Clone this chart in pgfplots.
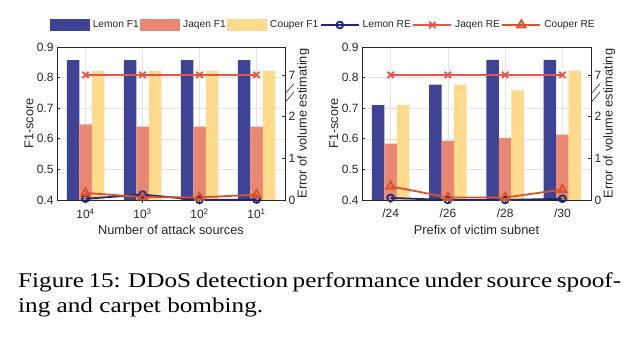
\documentclass[border=0pt]{standalone}
\usepackage{fontspec}
\setmainfont{Liberation Sans}
\newfontfamily\capfont{Liberation Serif}
\usepackage{graphicx}
\usepackage{pgfplots}
\pgfplotsset{compat=1.18}
\definecolor{lemonbar}{RGB}{62,67,150}
\definecolor{jaqenbar}{RGB}{234,135,115}
\definecolor{couperbar}{RGB}{254,218,140}
\definecolor{lemonre}{RGB}{30,40,120}
\definecolor{jaqenre}{RGB}{232,85,70}
\definecolor{couperre}{RGB}{217,83,40}
\definecolor{axgray}{RGB}{38,38,38}

\pgfplotsset{
  barlegend/.style={legend image code/.code={\fill[##1] (0pt,-6pt) rectangle (40pt,6pt);}},
  linelegend/.style={legend image code/.code={%
      \draw[##1, mark=none] (0pt,0pt) -- (38pt,0pt);
      \draw[##1] plot coordinates {(19pt,0pt)};}},
  common/.style={
    scale only axis, height=153pt,
    xmin=-0.5, xmax=3.5,
    tick align=inside, major tick length=3pt,
    axis line style={axgray, line width=0.6pt},
    tick style={axgray, line width=0.6pt},
    ticklabel style={font=\fontsize{12}{14}\selectfont, text=axgray},
    label style={font=\fontsize{12.8}{15}\selectfont, text=axgray},
    /pgf/number format/assume math mode=true,
  },
  prim/.style={
    common,
    ymin=0.4, ymax=0.9,
    xtick={0,1,2,3}, ytick={0.4,0.5,0.6,0.7,0.8,0.9},
    yticklabel style={/pgf/number format/fixed, /pgf/number format/fixed zerofill, /pgf/number format/precision=1},
    ytick pos=left, xtick pos=bottom,
    xmajorgrids, ymajorgrids, grid style={gray!22, line width=0.5pt},
    ybar=0pt, bar width=12.5pt,
    ylabel={F1-score},
    ylabel style={at={(axis description cs:-0.123,0.5)}, anchor=center},
    xlabel style={at={(axis description cs:0.5,-0.196)}, anchor=center},
    xticklabel style={yshift=-2pt},
  },
  sec/.style={
    common,
    ymin=0, ymax=3.67,
    axis x line=none, axis y line*=right,
    ytick={0,1,2,3}, yticklabels={0,1,2,7},
    clip=false,
    ylabel={Error of volume estimating},
    ylabel style={at={(axis description cs:1.08,0.5)}, anchor=center, rotate=0},
  },
  lemonline/.style={lemonre, line width=1.8pt, mark=o, mark size=3.4pt},
  jaqenline/.style={jaqenre, line width=1.8pt, mark=x, mark size=4.5pt},
  couperline/.style={couperre, line width=1.8pt, mark=triangle, mark size=4.8pt},
}

\begin{document}
\begin{tikzpicture}
\useasboundingbox (0,0) rectangle (637pt,339pt);

% ---------------- left plot ----------------
\begin{axis}[prim, at={(57pt,139pt)}, anchor=south west, width=228pt,
  xticklabels={10\textsuperscript{4},10\textsuperscript{3},10\textsuperscript{2},10\textsuperscript{1}},
  xlabel={Number of attack sources},
  legend style={at={(1.1667,1.1438)}, anchor=center, draw=none, fill=none,
    font=\fontsize{10.2}{12}\selectfont, text=axgray,
    nodes={inner xsep=1.5pt},
    /tikz/every odd column/.append style={column sep=1.5pt},
    /tikz/every even column/.append style={column sep=0pt}},
  legend columns=6]
\addplot[fill=lemonbar, draw=none, barlegend] coordinates {(0,0.857) (1,0.857) (2,0.857) (3,0.857)};
\addplot[fill=jaqenbar, draw=none, barlegend] coordinates {(0,0.647) (1,0.640) (2,0.640) (3,0.640)};
\addplot[fill=couperbar, draw=none, barlegend] coordinates {(0,0.822) (1,0.822) (2,0.822) (3,0.822)};
\addlegendimage{lemonline, linelegend}
\addlegendimage{jaqenline, linelegend}
\addlegendimage{couperline, linelegend}
\legend{Lemon F1, Jaqen F1, Couper F1, Lemon RE, Jaqen RE, Couper RE}
\end{axis}
\begin{axis}[sec, at={(57pt,139pt)}, anchor=south west, width=228pt]
\addplot[lemonline] coordinates {(0,0.03) (1,0.13) (2,0.0) (3,0.01)};
\addplot[jaqenline] coordinates {(0,3) (1,3) (2,3) (3,3)};
\addplot[couperline] coordinates {(0,0.17) (1,0.07) (2,0.06) (3,0.13)};
\draw[axgray, line width=0.6pt] ([xshift=1pt]axis cs:3.5,2.37) -- ([xshift=9pt]axis cs:3.5,2.59);
\draw[axgray, line width=0.6pt] ([xshift=1pt]axis cs:3.5,2.57) -- ([xshift=9pt]axis cs:3.5,2.79);
\end{axis}

% ---------------- right plot ----------------
\begin{axis}[prim, at={(362pt,139pt)}, anchor=south west, width=229pt,
  xticklabels={/24,/26,/28,/30},
  xlabel={Prefix of victim subnet}]
\addplot[fill=lemonbar, draw=none] coordinates {(0,0.710) (1,0.777) (2,0.858) (3,0.858)};
\addplot[fill=jaqenbar, draw=none] coordinates {(0,0.584) (1,0.593) (2,0.603) (3,0.614)};
\addplot[fill=couperbar, draw=none] coordinates {(0,0.710) (1,0.777) (2,0.758) (3,0.823)};
\end{axis}
\begin{axis}[sec, at={(362pt,139pt)}, anchor=south west, width=229pt]
\addplot[lemonline] coordinates {(0,0.05) (1,0.0) (2,0.0) (3,0.03)};
\addplot[jaqenline] coordinates {(0,3) (1,3) (2,3) (3,3)};
\addplot[couperline] coordinates {(0,0.33) (1,0.06) (2,0.06) (3,0.25)};
\draw[axgray, line width=0.6pt] ([xshift=1pt]axis cs:3.5,2.37) -- ([xshift=9pt]axis cs:3.5,2.59);
\draw[axgray, line width=0.6pt] ([xshift=1pt]axis cs:3.5,2.57) -- ([xshift=9pt]axis cs:3.5,2.79);
\end{axis}

% ---------------- caption ----------------
\node[anchor=base west, inner sep=0pt] at (18pt,51pt)
  {\capfont\fontsize{21}{25}\selectfont\scalebox{1.2}[1]{\makebox[502.5pt][s]{Figure 15: DDoS detection performance under source spoof-}}};
\node[anchor=base west, inner sep=0pt] at (18pt,26pt)
  {\capfont\fontsize{21}{25}\selectfont\scalebox{1.2}[1]{ing and carpet bombing.}};
\end{tikzpicture}
\end{document}
